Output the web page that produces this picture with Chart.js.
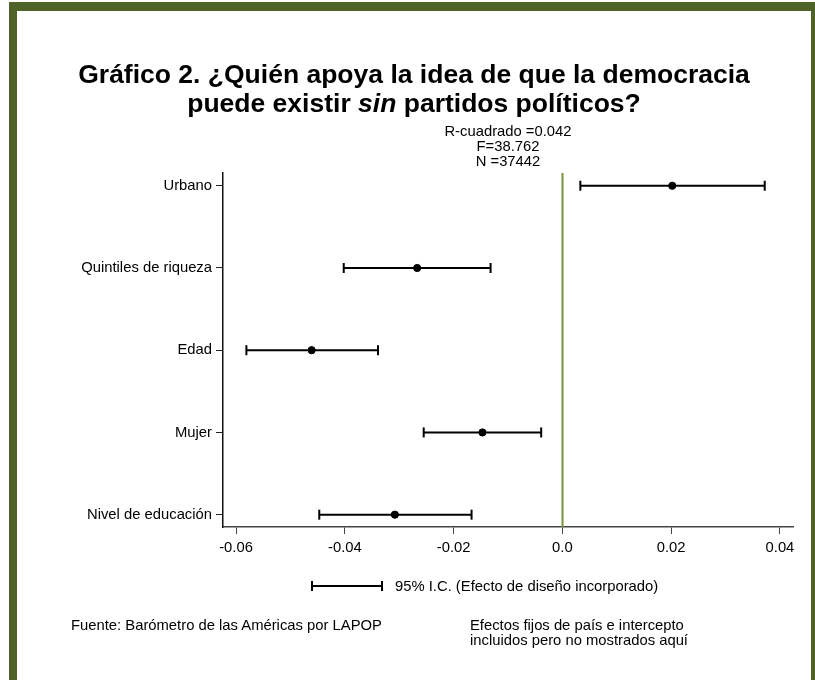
<!DOCTYPE html>
<html>
<head>
<meta charset="utf-8">
<script src="https://cdn.jsdelivr.net/npm/chart.js@4"></script>
<style>
  html, body { margin: 0; padding: 0; background: #fff; }
  body { width: 815px; height: 680px; position: relative; overflow: hidden;
         font-family: "Liberation Sans", Arial, sans-serif; color: #000; }
  .frame { position: absolute; left: 9px; top: 2px; width: 794px; height: 700px;
           border-left: 8px solid #4f6228; border-top: 9px solid #4f6228;
           border-right: 4px solid #4f6228; }
  #chart { position: absolute; left: 0; top: 0; z-index: 2; }
  .title { position: absolute; left: 17px; width: 794px; top: 60px; text-align: center;
           font-weight: bold; font-size: 26.5px; line-height: 29px; z-index: 3; }
  .stats { position: absolute; left: 408px; width: 200px; top: 124px; text-align: center;
           font-size: 14.8px; line-height: 15px; z-index: 3; }
  .txt { position: absolute; font-size: 14.8px; line-height: 15px; z-index: 3; white-space: nowrap; }
  .ci-key { position: absolute; left: 311px; top: 581px; width: 72px; height: 10px;
            border-left: 2px solid #000; border-right: 2px solid #000; box-sizing: border-box; }
  .ci-key::after { content: ""; position: absolute; left: 0; right: 0; top: 4px; height: 2px; background: #000; }
</style>
</head>
<body>
<div class="frame"></div>
<div class="title">Gráfico 2. ¿Quién apoya la idea de que la democracia<br>puede existir <i>sin</i> partidos políticos?</div>
<div class="stats">R-cuadrado =0.042<br>F=38.762<br>N =37442</div>
<div class="ci-key"></div>
<div class="txt" style="left:395px; top:579px;">95% I.C. (Efecto de diseño incorporado)</div>
<div class="txt" style="left:71px; top:618px;">Fuente: Barómetro de las Américas por LAPOP</div>
<div class="txt" style="left:470px; top:618px;">Efectos fijos de país e intercepto<br>incluidos pero no mostrados aquí</div>
<canvas id="chart" width="815" height="680"></canvas>
<script>
// regression coefficients with 95% confidence intervals
const categories = ['Urbano', 'Quintiles de riqueza', 'Edad', 'Mujer', 'Nivel de educación'];
const estimates = [0.0202, -0.0267, -0.0461, -0.0147, -0.0308];
const ciLower = [0.0033, -0.0402, -0.0581, -0.0255, -0.0447];
const ciUpper = [0.0372, -0.0132, -0.0339, -0.0039, -0.0167];
const xTicks = [-0.06, -0.04, -0.02, 0, 0.02, 0.04];
const xTickLabels = ['-0.06', '-0.04', '-0.02', '0.0', '0.02', '0.04'];

const ZERO_COLOR = '#77933c';
const FONT = "'Liberation Sans', Arial, sans-serif";

// one whisker dataset per row: a line between the bounds, vertical caps at the ends
const ciSets = categories.map((c, i) => ({
  type: 'line',
  data: [{ x: ciLower[i], y: i }, { x: ciUpper[i], y: i }],
  borderColor: '#000',
  borderWidth: 2,
  pointStyle: 'line',
  rotation: 90,
  pointRadius: 5,
  pointBorderWidth: 2,
  pointBorderColor: '#000',
  fill: false,
  order: 2
}));

const pointSet = {
  type: 'scatter',
  data: estimates.map((v, i) => ({ x: v, y: i })),
  backgroundColor: '#000',
  borderColor: '#000',
  pointRadius: 3.6,
  order: 1
};

// vertical reference line at zero
const zeroLine = {
  id: 'zeroLine',
  beforeDatasetsDraw(chart) {
    const { ctx, chartArea, scales } = chart;
    const x = Math.round(scales.x.getPixelForValue(0)) + 0.5;
    ctx.save();
    ctx.strokeStyle = ZERO_COLOR;
    ctx.lineWidth = 2;
    ctx.beginPath();
    ctx.moveTo(x, chartArea.top);
    ctx.lineTo(x, chartArea.bottom);
    ctx.stroke();
    ctx.restore();
  }
};

new Chart(document.getElementById('chart'), {
  data: { datasets: [...ciSets, pointSet] },
  options: {
    responsive: false,
    animation: false,
    layout: { padding: { left: 0, top: 173, right: 22, bottom: 113 } },
    plugins: { legend: { display: false }, tooltip: { enabled: false } },
    scales: {
      x: {
        type: 'linear',
        min: -0.0624,
        max: 0.0424,
        afterBuildTicks: s => { s.ticks = xTicks.map(v => ({ value: v })); },
        afterFit: s => { s.height = 40; },
        ticks: {
          autoSkip: false,
          maxRotation: 0,
          padding: 5,
          color: '#000',
          font: { family: FONT, size: 14.8 },
          callback: (v, i) => xTickLabels[i]
        },
        grid: { drawOnChartArea: false, drawTicks: true, tickLength: 7, color: '#444', lineWidth: 1 },
        border: { display: true, color: '#444', width: 1.5 }
      },
      y: {
        type: 'linear',
        reverse: true,
        min: -0.155,
        max: 4.15,
        afterBuildTicks: s => { s.ticks = categories.map((c, i) => ({ value: i })); },
        afterFit: s => { s.width = 223; },
        ticks: {
          autoSkip: false,
          padding: 4,
          color: '#000',
          font: { family: FONT, size: 14.8 },
          callback: (v, i) => categories[i]
        },
        grid: { drawOnChartArea: false, drawTicks: true, tickLength: 7, color: '#222', lineWidth: 1 },
        border: { display: true, color: '#111', width: 1.5 }
      }
    }
  },
  plugins: [zeroLine]
});
</script>
</body>
</html>
